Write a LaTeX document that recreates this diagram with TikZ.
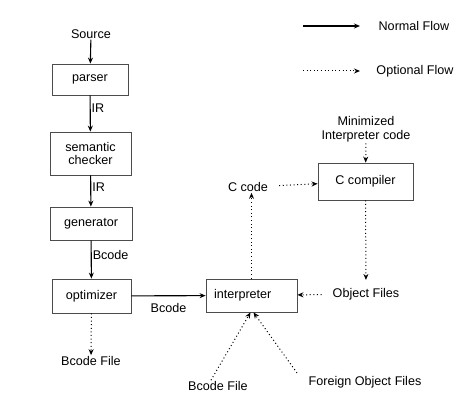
\documentclass[tikz,border=0pt]{standalone}
\usepackage{fontspec}
\setmainfont{Liberation Sans}
\usetikzlibrary{arrows.meta}

\tikzset{
  stage/.style={draw=black!70, line width=0.8pt, inner sep=0pt, align=center},
  lbl/.style={inner sep=1pt, align=center},
  flow/.style={line width=1.1pt, -{Stealth[length=6pt,width=5pt]}},
  optflow/.style={line width=1pt, dash pattern=on 1pt off 2.6pt, -{Stealth[length=6pt,width=5pt]}}
}

\begin{document}
\begin{tikzpicture}[x=1pt, y=-1pt, font=\fontsize{12.6}{14.5}\selectfont]
    \useasboundingbox (0,0) rectangle (472,411);

    % Legend in the top right corner
    \coordinate (nA) at (303,26);
    \coordinate (nB) at (360,26);
    \node[lbl] (nflow) at (414,26) {Normal Flow};
    \coordinate (oA) at (303,71);
    \coordinate (oB) at (360,71);
    \node[lbl] (oflow) at (415,71) {Optional Flow};
    \draw[flow] (nA) -- (nB);
    \draw[optflow] (oA) -- (oB);

    % Compiler chain on the left
    \node[lbl] (source) at (91,34) {Source};
    \node[stage, minimum width=76pt, minimum height=31pt] (parser) at (90,79.5) {parser};
    \node[stage, minimum width=81pt, minimum height=43pt] (checker) at (90.5,153.5) {semantic\\[-1pt]checker};
    \node[stage, minimum width=82pt, minimum height=33pt] (gen) at (91,223.5) {generator};
    \node[stage, minimum width=79pt, minimum height=34pt] (opt) at (91.5,296) {optimizer};
    \node[lbl] (bfileA) at (91,361) {Bcode File};

    \draw[flow] (source) -- (parser);
    \draw[flow] (parser) -- node[lbl, right, pos=0.35] {IR} (checker);
    \draw[flow] (checker) -- node[lbl, right, pos=0.38] {IR} (gen);
    \draw[flow] (gen) -- node[lbl, right, pos=0.37] {Bcode} (opt);
    \draw[optflow] (opt) -- (bfileA);

    % Interpreter and the C side
    \node[stage, text width=75pt, inner xsep=8pt, minimum height=33pt, align=left] (interp) at (251.5,295.5) {interpreter};
    \node[lbl] (ccode) at (248,187) {C code};
    \node[stage, minimum width=95pt, minimum height=37pt] (ccomp) at (365.5,181.5) {C compiler};
    \node[lbl] (mincode) at (366,129) {Minimized\\Interpreter code};
    \node[lbl] (objfiles) at (366,294) {Object Files};
    \node[lbl] (bfileB) at (218,386) {Bcode File};
    \node[lbl] (foreign) at (365,382) {Foreign Object Files};

    \draw[flow] (opt) -- node[lbl, below=6pt] {Bcode} (interp);
    \draw[optflow] (interp.north) -- (interp.north |- ccode.south);
    \draw[optflow, shorten <=10pt] (ccode) -- (ccomp);
    \draw[optflow] (mincode) -- (ccomp);
    \draw[optflow, shorten >=7pt] (ccomp) -- (objfiles);
    \draw[optflow, shorten <=10pt] (objfiles) -- (interp);
    \draw[optflow] ([xshift=-7pt]bfileB.north) -- ([xshift=-1pt]interp.south);
    \draw[optflow] ([xshift=-68pt,yshift=2pt]foreign.north) -- ([xshift=2pt]interp.south);
\end{tikzpicture}
\end{document}
